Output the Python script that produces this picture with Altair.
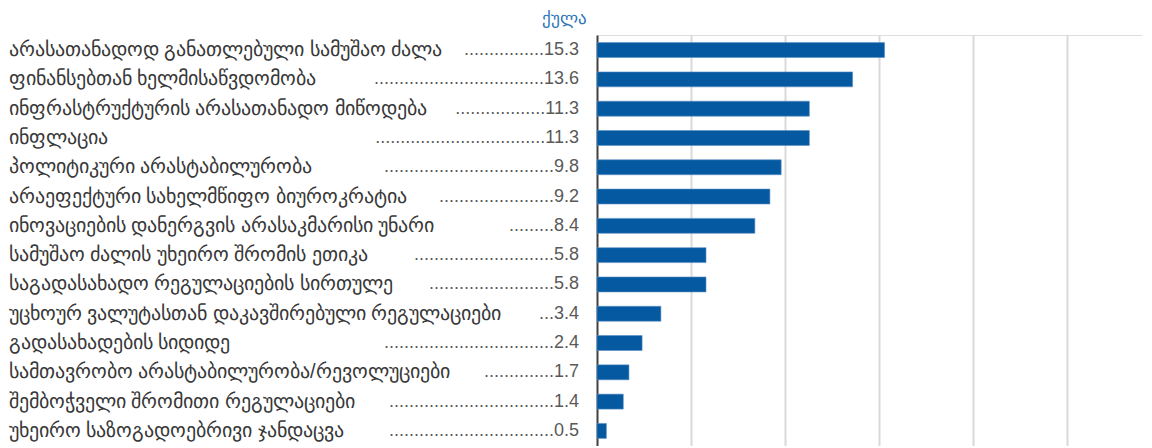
import altair as alt
import pandas as pd

categories = [
    "არასათანადოდ განათლებული სამუშაო ძალა",
    "ფინანსებთან ხელმისაწვდომობა",
    "ინფრასტრუქტურის არასათანადო მიწოდება",
    "ინფლაცია",
    "პოლიტიკური არასტაბილურობა",
    "არაეფექტური სახელმწიფო ბიუროკრატია",
    "ინოვაციების დანერგვის არასაკმარისი უნარი",
    "სამუშაო ძალის უხეირო შრომის ეთიკა",
    "საგადასახადო რეგულაციების სირთულე",
    "უცხოურ ვალუტასთან დაკავშირებული რეგულაციები",
    "გადასახადების სიდიდე",
    "სამთავრობო არასტაბილურობა/რევოლუციები",
    "შემბოჭველი შრომითი რეგულაციები",
    "უხეირო საზოგადოებრივი ჯანდაცვა",
]
values = [15.3, 13.6, 11.3, 11.3, 9.8, 9.2, 8.4, 5.8, 5.8, 3.4, 2.4, 1.7, 1.4, 0.5]

# leader dots (Excel-style "label .......value" formatting), estimated from label length
CHAR_W = 12.4
SPACE_W = 6.4
DOT_W = 5.0
LEADER_MIN_START = 372
LEADER_END = 541


def leader(label):
    n_sp = label.count(" ")
    end = 8 + (len(label) - n_sp) * CHAR_W + n_sp * SPACE_W
    start = max(LEADER_MIN_START, end + 10)
    n = int(round((LEADER_END - start) / DOT_W))
    return "." * max(3, n)


df = pd.DataFrame({
    "category": categories,
    "value": values,
})
df["lead"] = [leader(c) + f"{v:.1f}" for c, v in zip(categories, values)]

FONT = "Liberation Sans"

y_enc = alt.Y(
    "category:N",
    sort=None,
    title=None,
    scale=alt.Scale(paddingInner=0.49, paddingOuter=0.26),
    axis=alt.Axis(
        labelAlign="left",
        labelPadding=589,
        labelFontSize=20,
        labelColor="#383838",
        labelFont=FONT,
        labelLimit=600,
        ticks=False,
        domain=True,
        domainColor="#404040",
        domainWidth=2,
        grid=False,
    ),
)

bars = alt.Chart(df).mark_bar(color="#0459a0", stroke="#5b8fc4", strokeWidth=0.6).encode(
    x=alt.X(
        "value:Q",
        title=None,
        scale=alt.Scale(domain=[0, 29], nice=False),
        axis=alt.Axis(
            values=[5, 10, 15, 20, 25],
            labels=False,
            ticks=False,
            domain=False,
            grid=True,
            gridColor="#d9d9d9",
            gridWidth=2,
        ),
    ),
    y=y_enc,
)

leaders = alt.Chart(df).mark_text(
    align="right", baseline="middle", font=FONT, fontSize=18, color="#595959"
).encode(
    x=alt.value(-18),
    y=alt.Y("category:N", sort=None),
    text="lead:N",
)

chart = (
    alt.layer(bars, leaders)
    .properties(
        width=545,
        height=411,
        padding={"left": 0, "top": 2, "right": 0, "bottom": 0},
        title=alt.TitleParams(
            text="ქულა",
            anchor="start",
            frame="group",
            align="right",
            dx=-10,
            fontSize=17,
            fontWeight="normal",
            color="#2e75b6",
            offset=7,
        ),
    )
    .configure_view(stroke=None)
    .configure(font=FONT)
)

chart.save("out.html", embed_options={"renderer": "svg", "actions": False})
